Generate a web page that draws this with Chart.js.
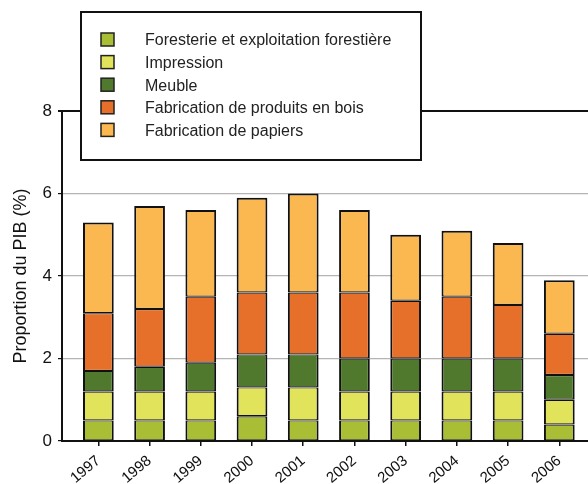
<!DOCTYPE html>
<html>
<head>
<meta charset="utf-8">
<script src="https://cdn.jsdelivr.net/npm/chart.js@4.4.1/dist/chart.umd.min.js"></script>
<style>
  html, body { margin: 0; padding: 0; background: #fff; }
  #wrap { width: 588px; height: 484px; }
</style>
</head>
<body>
<div id="wrap"><canvas id="canvas"></canvas></div>
<script>
// valeurs (% du PIB)
var years = [1997, 1998, 1999, 2000, 2001, 2002, 2003, 2004, 2005, 2006];
var foresterie   = [0.5, 0.5, 0.5, 0.6, 0.5, 0.5, 0.5, 0.5, 0.5, 0.4];
var impression   = [0.7, 0.7, 0.7, 0.7, 0.8, 0.7, 0.7, 0.7, 0.7, 0.6];
var meuble       = [0.5, 0.6, 0.7, 0.8, 0.8, 0.8, 0.8, 0.8, 0.8, 0.6];
var produitsBois = [1.4, 1.4, 1.6, 1.5, 1.5, 1.6, 1.4, 1.5, 1.3, 1.0];
var papiers      = [2.2, 2.5, 2.1, 2.3, 2.4, 2.0, 1.6, 1.6, 1.5, 1.3];
var yTicks = [0, 2, 4, 6, 8];

var font = '"Liberation Sans", Arial, sans-serif';

function pts(arr) {
  return years.map(function (y, i) { return { x: y, y: arr[i] }; });
}

function serie(label, arr, color, top) {
  return {
    label: label,
    data: pts(arr),
    backgroundColor: color,
    borderColor: '#111',
    // haut/bas fins : deux segments voisins donnent un trait d'environ 2px
    borderWidth: { top: top || 1.2, bottom: 1.2, left: 2, right: 2 },
    borderSkipped: false,
    inflateAmount: 0,
    categoryPercentage: 1,
    barPercentage: 0.6
  };
}

// legende encadree dessinee par dessus le haut du graphique
var legendBox = {
  id: 'legendBox',
  afterDraw: function (chart) {
    var c = chart.ctx;
    c.save();
    c.fillStyle = '#fff';
    c.fillRect(81, 12, 340, 148);
    c.strokeStyle = '#111';
    c.lineWidth = 2;
    c.strokeRect(81, 12, 340, 148);
    c.font = '16px ' + font;
    c.textBaseline = 'middle';
    chart.data.datasets.forEach(function (ds, i) {
      var y = 40 + i * 22.6;
      c.fillStyle = ds.backgroundColor;
      c.fillRect(101, y - 7, 13, 13);
      c.lineWidth = 1.5;
      c.strokeStyle = '#222';
      c.strokeRect(101, y - 7, 13, 13);
      c.fillStyle = '#222';
      c.fillText(ds.label, 145, y + 1);
    });
    c.restore();
  }
};

var ctx = document.getElementById('canvas').getContext('2d');
window.myBar = new Chart(ctx, {
  type: 'bar',
  data: {
    datasets: [
      serie('Foresterie et exploitation forestière', foresterie, '#a9bd35'),
      serie('Impression', impression, '#e1e35b'),
      serie('Meuble', meuble, '#50792e'),
      serie('Fabrication de produits en bois', produitsBois, '#e6702a'),
      serie('Fabrication de papiers', papiers, '#fbb850', 2)
    ]
  },
  options: {
    responsive: true,
    maintainAspectRatio: false,
    animation: false,
    layout: { padding: { top: 111, right: 0, left: 0, bottom: 0 } },
    plugins: {
      legend: { display: false },
      tooltip: { enabled: false }
    },
    scales: {
      x: {
        type: 'linear',
        stacked: true,
        offset: false,
        min: 1996.29,
        max: 2006.56,
        afterBuildTicks: function (scale) {
          scale.ticks = years.map(function (v) { return { value: v }; });
        },
        afterFit: function (scale) { scale.height = 43; },
        grid: { offset: false, drawOnChartArea: false, drawTicks: true, tickLength: 5, tickColor: '#111', lineWidth: 1.5 },
        border: { color: '#111', width: 2 },
        ticks: {
          autoSkip: false,
          minRotation: 40,
          maxRotation: 40,
          padding: 6,
          color: '#111',
          font: { family: font, size: 15 },
          callback: function (v) { return String(v); }
        }
      },
      y: {
        stacked: true,
        min: 0,
        max: 8,
        afterBuildTicks: function (scale) {
          scale.ticks = yTicks.map(function (v) { return { value: v }; });
        },
        afterFit: function (scale) { scale.width = 62; },
        grid: {
          color: function (c) { return c.tick && c.tick.value === 8 ? '#111' : '#b4b4b4'; },
          lineWidth: function (c) { return c.tick && c.tick.value === 8 ? 2 : 1.2; },
          tickColor: '#111',
          tickLength: 4
        },
        border: { color: '#111', width: 2 },
        ticks: {
          padding: 6,
          color: '#111',
          font: { family: font, size: 17 }
        },
        title: {
          display: true,
          text: 'Proportion du PIB (%)',
          color: '#111',
          font: { family: font, size: 18 },
          padding: { top: 10, bottom: 0 }
        }
      }
    }
  },
  plugins: [legendBox]
});
</script>
</body>
</html>
